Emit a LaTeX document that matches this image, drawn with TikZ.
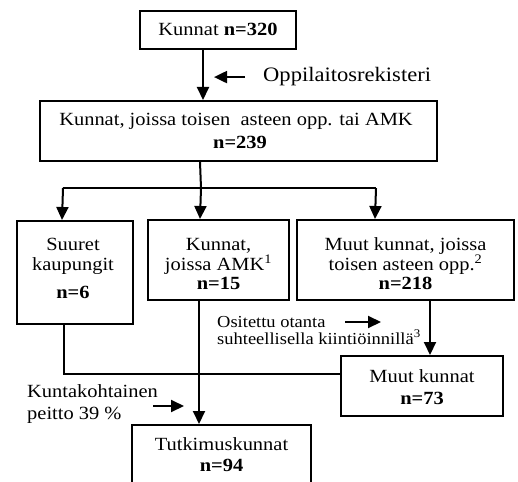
\documentclass[tikz,border=0pt]{standalone}
\usepackage{fontspec}
\setmainfont{Liberation Serif}[FakeStretch=1.1]
\usetikzlibrary{arrows.meta}
\begin{document}
\begin{tikzpicture}[x=1pt,y=-1pt,
  box/.style={draw,line width=2pt,rectangle,inner sep=0pt},
  t/.style={anchor=base,inner sep=0pt,font=\fontsize{18.6}{21}\selectfont},
  tl/.style={anchor=base west,inner sep=0pt,font=\fontsize{18.6}{21}\selectfont},
  ts/.style={anchor=base west,inner sep=0pt,font=\fontsize{16.8}{18}\selectfont},
  con/.style={line width=2pt},
  arr/.style={line width=2pt,-{Triangle[length=13pt,width=12pt]}}]
\clip (0,0) rectangle (518,481);
% boxes
\node[box,minimum width=156pt,minimum height=38pt] (top) at (218,30) {};
\node[box,minimum width=397pt,minimum height=60pt] (reg) at (238.5,131) {};
\node[box,minimum width=116pt,minimum height=103pt] (suur) at (75,272.5) {};
\node[box,minimum width=141pt,minimum height=80pt] (amk) at (218.5,260) {};
\node[box,minimum width=217pt,minimum height=80pt] (muut) at (405.5,260) {};
\node[box,minimum width=162pt,minimum height=60pt] (m73) at (422,386) {};
\node[box,minimum width=179pt,minimum height=64pt] (tutk) at (221.5,457) {};
% texts
\node[t] (topt) at (218,36) {Kunnat \textbf{n=320}};
\node[tl,font=\fontsize{20.5}{22}\selectfont] (rekl) at (263,82) {Oppilaitosrekisteri};
\node[t] (regt1) at (236,126) {Kunnat, joissa toisen\ \ asteen opp. tai AMK};
\node[t] (regt2) at (240,148) {\textbf{n=239}};
\node[t] (suurt1) at (73,250) {Suuret};
\node[t] (suurt2) at (73,270) {kaupungit};
\node[t] (suurt3) at (73,298) {\textbf{n=6}};
\node[t] (amkt1) at (218.5,250) {Kunnat,};
\node[t] (amkt2) at (218.5,270) {joissa AMK\textsuperscript{1}};
\node[t] (amkt3) at (218.5,289) {\textbf{n=15}};
\node[t] (muutt1) at (405.5,250) {Muut kunnat, joissa};
\node[t] (muutt2) at (405.5,270) {toisen asteen opp.\textsuperscript{2}};
\node[t] (muutt3) at (405.5,289) {\textbf{n=218}};
\node[ts] (osl1) at (217,327) {Ositettu otanta};
\node[ts] (osl2) at (217,344) {suhteellisella kiintiöinnillä\textsuperscript{3}};
\node[t] (m73t1) at (422,382) {Muut kunnat};
\node[t] (m73t2) at (422,404) {\textbf{n=73}};
\node[tl] (kul1) at (27,397) {Kuntakohtainen};
\node[tl] (kul2) at (27,419) {peitto 39 \%};
\node[t] (tutkt1) at (221.5,450) {Tutkimuskunnat};
\node[t] (tutkt2) at (221.5,471) {\textbf{n=94}};
% connectors
\draw[arr] ([xshift=64pt]top.south west) -- ([xshift=164pt]reg.north west);
\draw[arr] ([xshift=-18pt]rekl.west) -- ([xshift=-49pt]rekl.west);
\coordinate (split) at (201,188);
\coordinate (lsplit) at (63,188);
\coordinate (rsplit) at (376,188);
\draw[con] ([xshift=161pt]reg.south west) -- (split);
\draw[con] (lsplit) -- (rsplit);
\draw[arr] (lsplit) -- ([xshift=46pt]suur.north west);
\draw[arr] (split) -- ([xshift=53pt]amk.north west);
\draw[arr] (rsplit) -- ([xshift=79pt]muut.north west);
\draw[con] ([xshift=48pt]suur.south west) |- ([yshift=12pt]m73.west);
\draw[arr] ([xshift=52pt]amk.south west) -- ([xshift=68pt]tutk.north west);
\draw[arr] ([xshift=134pt]muut.south west) -- ([xshift=90pt]m73.north west);
\coordinate (osa) at (345,322);
\coordinate (osb) at (381,322);
\draw[arr] (osa) -- (osb);
\coordinate (kua) at (153,406);
\coordinate (kub) at (184,406);
\draw[arr] (kua) -- (kub);
\end{tikzpicture}
\end{document}
